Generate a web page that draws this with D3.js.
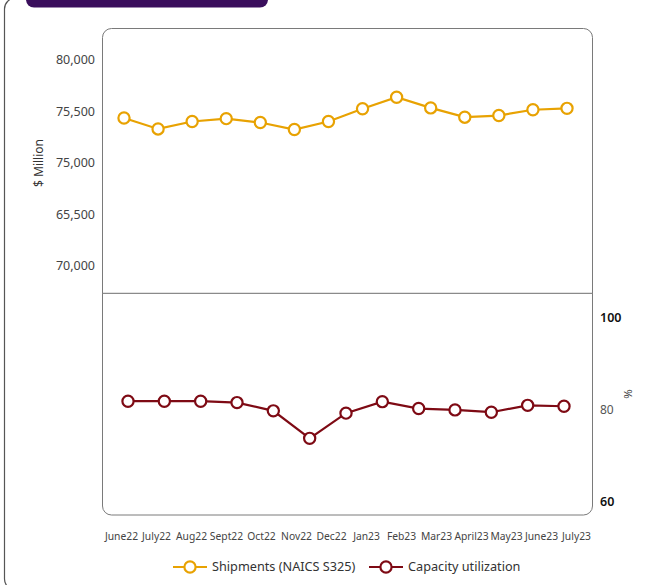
<!DOCTYPE html>
<html><head><meta charset="utf-8">
<script src="https://cdn.jsdelivr.net/npm/d3@7"></script>
<style>html,body{margin:0;padding:0;background:#fff;overflow:hidden}</style>
</head><body>
<svg id="c" width="649" height="585"></svg>
<script>
const months = ["June22","July22","Aug22","Sept22","Oct22","Nov22","Dec22","Jan23","Feb23","Mar23","April23","May23","June23","July23"];
const shipments = [77150,76620,76980,77120,76930,76590,76980,77600,78160,77640,77190,77270,77550,77620];
const capacityMonths = months.slice(0,13);
const capacity = [81.7,81.7,81.7,81.4,79.6,73.6,79.1,81.6,80.1,79.8,79.3,80.8,80.6];
const leftTickValues = [80000,77500,75000,72500,70000];
const leftTickLabels = ["80,000","75,500","75,000","65,500","70,000"];
const rightTickValues = [100,80,60];
const rightTickLabels = ["100","80","60"];
const seriesNames = ["Shipments (NAICS S325)","Capacity utilization"];
const colors = ["#E8A202","#7E0A14"];

const svg = d3.select("#c");
const F = "'Noto Sans', 'Open Sans', sans-serif";
const box = {l:102.5, r:592.5, t:28.5, b:515, mid:293.3};

// outer frame
svg.append("rect").attr("x",4.5).attr("y",-2).attr("width",720).attr("height",592)
  .attr("rx",11).attr("fill","none").attr("stroke","#555").attr("stroke-width",1.2);
// purple header
svg.append("rect").attr("x",26).attr("y",-20).attr("width",242).attr("height",27.5)
  .attr("rx",8).attr("fill","#3a0e5c");

// inner box
svg.append("rect").attr("x",box.l).attr("y",box.t).attr("width",box.r-box.l).attr("height",box.b-box.t)
  .attr("rx",9).attr("fill","none").attr("stroke","#7a7a7a").attr("stroke-width",1);
svg.append("line").attr("x1",box.l).attr("x2",box.r).attr("y1",box.mid).attr("y2",box.mid)
  .attr("stroke","#8a8a8a").attr("stroke-width",1.2);

// scales
const xLab = d3.scalePoint().domain(months).range([121,576]);
const xShip = d3.scalePoint().domain(months).range([124,567]);
const xCap = d3.scalePoint().domain(capacityMonths).range([128,564]);
const yShip = d3.scaleLinear().domain([70000,80000]).range([265.3,59.3]);
const yCap = d3.scaleLinear().domain([60,100]).range([500.7,317.3]);

// left axis
const la = svg.append("g").attr("transform","translate(95,0)")
  .call(d3.axisLeft(yShip).tickValues(leftTickValues).tickSize(0)
    .tickFormat((d,i)=>leftTickLabels[i]));
la.select(".domain").remove();
la.selectAll("text").attr("font-family",F).attr("font-size",12.5).attr("fill","#444").attr("dy","0.35em").attr("x",0);

// right axis
const ra = svg.append("g").attr("transform","translate(600,0)")
  .call(d3.axisRight(yCap).tickValues(rightTickValues).tickSize(0)
    .tickFormat((d,i)=>rightTickLabels[i]));
ra.select(".domain").remove();
ra.selectAll("text").attr("font-family",F).attr("x",0).attr("dy","0.35em")
  .attr("font-size",(d)=>d===80?12:12.5)
  .attr("font-weight",(d)=>d===80?400:600)
  .attr("fill",(d)=>d===80?"#555":"#111");

// bottom axis
const ba = svg.append("g").attr("transform","translate(0,536)")
  .call(d3.axisBottom(xLab).tickSize(0));
ba.select(".domain").remove();
ba.selectAll("text").attr("font-family",F).attr("font-size",10.3).attr("fill","#444").attr("dy","0.35em").attr("y",0);

// axis titles
svg.append("text").attr("transform","translate(39,163) rotate(-90)").attr("text-anchor","middle")
  .attr("dy","0.35em").attr("font-family",F).attr("font-size",12).attr("fill","#333").text("$ Million");
svg.append("text").attr("transform","translate(628,394) rotate(90)").attr("text-anchor","middle")
  .attr("dy","0.35em").attr("font-family",F).attr("font-size",11.5).attr("fill","#444").text("%");

// lines
const shipData = months.map((m,i)=>({m, v:shipments[i]}));
const capData = capacityMonths.map((m,i)=>({m, v:capacity[i]}));

function series(data, x, y, color){
  svg.append("path").datum(data)
    .attr("d", d3.line().x(d=>x(d.m)).y(d=>y(d.v)))
    .attr("fill","none").attr("stroke",color).attr("stroke-width",2.2);
  svg.append("g").selectAll("circle").data(data).join("circle")
    .attr("cx",d=>x(d.m)).attr("cy",d=>y(d.v)).attr("r",5.6)
    .attr("fill","#fff").attr("stroke",color).attr("stroke-width",2.2);
}
series(shipData, xShip, yShip, colors[0]);
series(capData, xCap, yCap, colors[1]);

// legend
const legX = [173,369];
seriesNames.forEach((name,i)=>{
  const g = svg.append("g").attr("transform",`translate(${legX[i]},567)`);
  g.append("line").attr("x1",0).attr("x2",34).attr("stroke",colors[i]).attr("stroke-width",2.2);
  g.append("circle").attr("cx",17).attr("r",5.6).attr("fill","#fff").attr("stroke",colors[i]).attr("stroke-width",2.2);
  g.append("text").attr("x",39).attr("dy","0.35em").attr("font-family",F).attr("font-size",12.7)
    .attr("fill","#333").text(name);
});
</script>
</body></html>
